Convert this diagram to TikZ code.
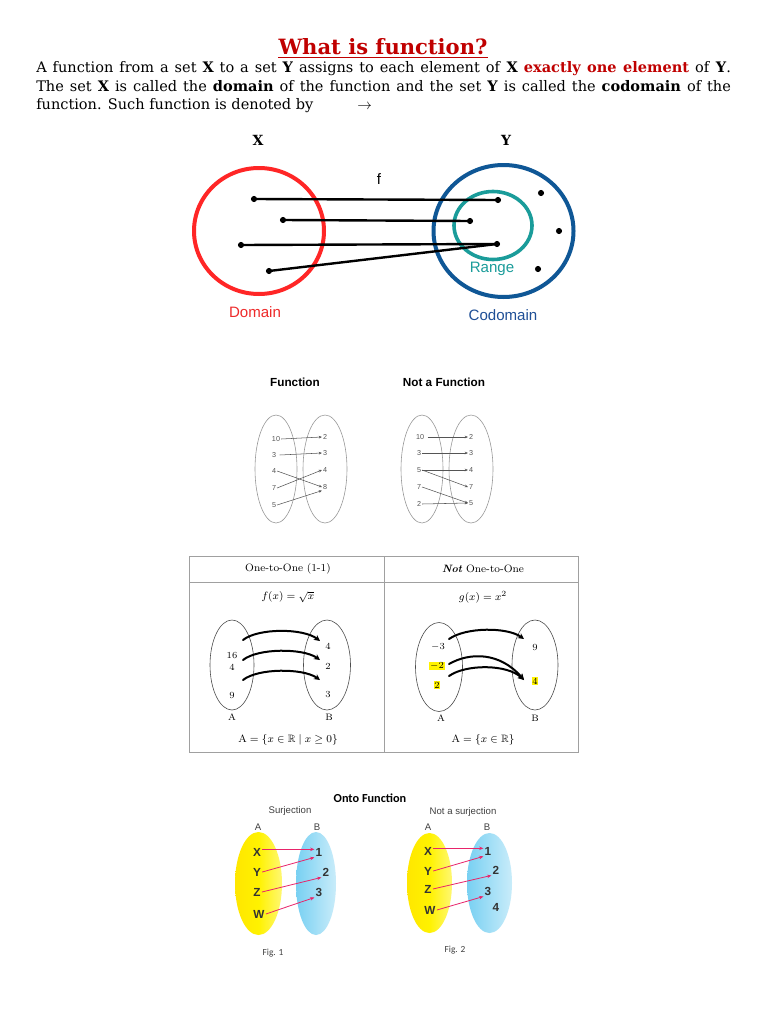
\documentclass[tikz,border=0pt]{standalone}
\usepackage{amssymb}
\usepackage{fontspec}
\usetikzlibrary{arrows.meta,shapes.geometric}
\newfontfamily\bodyfont{DejaVu Serif}
\newfontfamily\arialfont{Liberation Sans}
\newfontfamily\calfont{Carlito}
\definecolor{titlered}{HTML}{C00000}
\definecolor{circred}{HTML}{FF2626}
\definecolor{circblue}{HTML}{0F5796}
\definecolor{circteal}{HTML}{1A9C9A}
\definecolor{domred}{HTML}{EE2A2A}
\definecolor{codblue}{HTML}{1F4F96}
\definecolor{arrowpink}{HTML}{E8246A}
\definecolor{greytext}{HTML}{555555}
\definecolor{boxgrey}{HTML}{A0A0A0}
\definecolor{ovalyellow}{HTML}{FFF200}
\definecolor{ovalblue}{HTML}{78D0F2}
\tikzset{
  body/.style={inner sep=0pt, anchor=base west, font=\bodyfont\fontsize{10.9pt}{12pt}\selectfont},
  dot/.style={circle, fill=black, inner sep=0pt, minimum size=4.6pt},
  link/.style={line width=1.8pt},
  lbl/.style={font=\arialfont\fontsize{11.3pt}{13pt}\selectfont, inner sep=0pt},
  small/.style={font=\arialfont\fontsize{5.4pt}{6pt}\selectfont, text=greytext, inner sep=0.6pt},
  thin oval/.style={draw=gray!80, line width=0.45pt},
  sarrow/.style={draw=greytext, line width=0.4pt, -{Stealth[length=2.4pt,width=2pt]}},
  boxtext/.style={font=\fontsize{8pt}{9.5pt}\selectfont, inner sep=0pt},
  boxnum/.style={font=\fontsize{7pt}{8pt}\selectfont, inner sep=0.6pt},
  fatarrow/.style={line width=1.5pt, line cap=round, -{Stealth[length=4.5pt,width=4.5pt]}},
  hl/.style={fill=yellow},
  onto/.style={font=\arialfont\bfseries\fontsize{8.8pt}{9pt}\selectfont, text=black!80, inner sep=0.8pt},
  ontoarrow/.style={draw=arrowpink, line width=0.6pt, -{Stealth[length=3.2pt,width=2.6pt]}},
  caption/.style={font=\arialfont\fontsize{7.2pt}{8pt}\selectfont, text=black!75, inner sep=0pt},
  setname/.style={inner sep=0pt, font=\bodyfont\bfseries\fontsize{10.5pt}{12pt}\selectfont},
}
\begin{document}
\begin{tikzpicture}[x=0.75pt,y=-0.75pt]
\useasboundingbox (0,0) rectangle (768,1024);
\fill[white] (0,0) rectangle (768,1024);

% ---------- title and text ----------
\node[inner sep=0pt, text=titlered, font=\bodyfont\bfseries\fontsize{15.8pt}{17pt}\selectfont] (title) at (383,47) {What is function?};
\draw[titlered, line width=0.8pt] ([yshift=-1.3pt]title.south west) -- ([yshift=-1.3pt]title.south east);

\node[body] (line1) at (36,73) {\makebox[521pt][s]{A function from a set \textbf{X} to a set \textbf{Y} assigns to each element of \textbf{X} \textcolor{titlered}{\textbf{exactly one element}} of \textbf{Y}.}};
\node[body] (line2) at (36,91) {\makebox[521pt][s]{The set \textbf{X} is called the \textbf{domain} of the function and the set \textbf{Y} is called the \textbf{codomain} of the}};
\node[body] (line3) at (36,109) {function. Such function is denoted by};
\node[body] (arr) at (357,109) {$\rightarrow$};

% ---------- domain / codomain diagram ----------
\node[setname] (setx) at (258,140) {X};
\node[setname] (sety) at (506,140) {Y};
\draw[circred, line width=3pt] (259,231) ellipse [x radius=65, y radius=63];
\draw[circblue, line width=3pt] (503.5,231) ellipse [x radius=70, y radius=66];
\draw[circteal, line width=2.7pt] (493,225.5) ellipse [x radius=39, y radius=34];

\node[dot] (a1) at (254,199) {};
\node[dot] (a2) at (283,220) {};
\node[dot] (a3) at (241,245) {};
\node[dot] (a4) at (269,271) {};
\node[dot] (b1) at (498,200) {};
\node[dot] (b2) at (470,221) {};
\node[dot] (b3) at (497,244) {};
\node[dot] (c1) at (541,193) {};
\node[dot] (c2) at (559,231) {};
\node[dot] (c3) at (538,269) {};
\draw[link] (a1.center) -- (b1.center);
\draw[link] (a2.center) -- (b2.center);
\draw[link] (a3.center) -- (b3.center);
\draw[link] (a4.center) -- (b3.center);

\node[lbl] (f) at (379,179) {f};
\node[lbl, text=circteal] (range) at (492,269) {Range};
\node[lbl, text=domred] (domain) at (255,312) {Domain};
\node[lbl, text=codblue] (codomain) at (503,315) {Codomain};

% ---------- function / not a function ----------
\node[inner sep=0pt, font=\arialfont\bfseries\fontsize{8.8pt}{10pt}\selectfont] (fn) at (295,382) {Function};
\node[inner sep=0pt, font=\arialfont\bfseries\fontsize{8.8pt}{10pt}\selectfont] (nfn) at (444,382) {Not a Function};

\draw[thin oval] (276,469) ellipse [x radius=21, y radius=54];
\draw[thin oval] (325,469) ellipse [x radius=22, y radius=54];
\node[small] (p10) at (276,439) {10};
\node[small] (p3) at (274,455) {3};
\node[small] (p4) at (274,471) {4};
\node[small] (p7) at (274,488) {7};
\node[small] (p5) at (274,505) {5};
\node[small] (q2) at (325,437) {2};
\node[small] (q3) at (325,453) {3};
\node[small] (q4) at (325,470) {4};
\node[small] (q8) at (325,487) {8};
\draw[sarrow] (p10.east) -- (q2.west);
\draw[sarrow] ([xshift=2pt]p3.east) -- (q3.west);
\draw[sarrow] (p4.east) -- (q8.west);
\draw[sarrow] (p7.east) -- (q4.west);
\draw[sarrow] (p5.east) -- (q8.south west);

\draw[thin oval] (422,469) ellipse [x radius=21, y radius=54];
\draw[thin oval] (471,469) ellipse [x radius=22, y radius=54];
\node[small] (r10) at (420,437) {10};
\node[small] (r3) at (419,453) {3};
\node[small] (r5) at (419,470) {5};
\node[small] (r7) at (419,487) {7};
\node[small] (r2) at (419,504) {2};
\node[small] (s2) at (471,437) {2};
\node[small] (s3) at (471,453) {3};
\node[small] (s4) at (471,470) {4};
\node[small] (s7) at (471,487) {7};
\node[small] (s5) at (471,503) {5};
\draw[sarrow] ([xshift=2pt]r10.east) -- (s2.west);
\draw[sarrow] (r3.east) -- (s3.west);
\draw[sarrow] (r5.east) -- (s4.west);
\draw[sarrow] (r5.east) -- (s7.west);
\draw[sarrow] (r7.east) -- (s5.west);
\draw[sarrow] (r2.east) -- (s5.west);

% ---------- one-to-one box ----------
\draw[boxgrey, line width=0.7pt] (189,556) rectangle (578,752);
\draw[boxgrey, line width=0.7pt] (384,556) -- (384,752);
\draw[boxgrey, line width=0.7pt] (189,582) -- (578,582);
\node[boxtext] (h1) at (288,569) {One-to-One (1-1)};
\node[boxtext] (h2) at (483,569) {\textbf{\textit{Not}} One-to-One};
\node[boxtext] (e1) at (288,597) {$f(x) = \sqrt{x}$};
\node[boxtext] (e2) at (483,597) {$g(x) = x^2$};

\draw[thin oval, draw=black!70] (232,665) ellipse [x radius=22, y radius=45];
\draw[thin oval, draw=black!70] (327,665) ellipse [x radius=23.5, y radius=45];
\node[boxnum] (u16) at (232,655) {16};
\node[boxnum] (u4) at (232,667) {4};
\node[boxnum] (u9) at (232,695) {9};
\node[boxnum] (v4) at (328,646) {4};
\node[boxnum] (v2) at (328,666) {2};
\node[boxnum] (v3) at (328,694) {3};
\node[boxnum] (ua) at (232,717) {A};
\node[boxnum] (vb) at (329,717) {B};
\coordinate (s1) at (243,640);
\coordinate (t1) at (320,641);
\coordinate (s2x) at (243,660);
\coordinate (t2) at (320,660);
\coordinate (s3x) at (243,680);
\coordinate (t3) at (320,680);
\draw[fatarrow] (s1) .. controls (258,628) and (303,628) .. (t1);
\draw[fatarrow] (s2x) .. controls (258,648) and (303,648) .. (t2);
\draw[fatarrow] (s3x) .. controls (258,668) and (303,668) .. (t3);
\node[boxtext] (dom1) at (288,740) {$\mathrm{A} = \{x \in \mathbb{R} \mid x \geq 0\}$};

\draw[thin oval, draw=black!70] (439,667) ellipse [x radius=23.5, y radius=44.5];
\draw[thin oval, draw=black!70] (535,665) ellipse [x radius=23, y radius=45];
\node[boxnum] (m3) at (438,647) {$-3$};
\node[boxnum, hl] (m2) at (437,666) {$-2$};
\node[boxnum, hl] (p2) at (437,685) {$2$};
\node[boxnum] (n9) at (535,647) {9};
\node[boxnum, hl] (n4) at (535,681) {4};
\node[boxnum] (wa) at (441,718) {A};
\node[boxnum] (wb) at (535,718) {B};
\coordinate (g1) at (449,639);
\coordinate (h1e) at (524,639);
\coordinate (g2) at (449,664);
\coordinate (g3) at (449,676);
\coordinate (h4) at (524,680);
\draw[fatarrow] (g1) .. controls (466,627) and (507,627) .. (h1e);
\draw[fatarrow] (g2) .. controls (470,652) and (500,652) .. (h4);
\draw[fatarrow] (g3) .. controls (466,664) and (507,664) .. (h4);
\node[boxtext] (dom2) at (483,740) {$\mathrm{A} = \{x \in \mathbb{R}\}$};

% ---------- onto function ----------
\node[inner sep=0pt, font=\calfont\bfseries\fontsize{9.2pt}{10pt}\selectfont] (onto) at (370,798) {Onto Function};
\node[caption] (surj) at (290,811) {Surjection};
\node[caption] (nsurj) at (463,812) {Not a surjection};

\shade[left color=ovalyellow!90!orange, right color=ovalyellow!55!white, middle color=ovalyellow] (258.5,883.5) ellipse [x radius=23.5, y radius=51.5];
\shade[left color=ovalblue, right color=ovalblue!40!white, middle color=ovalblue!70!white] (316,883.5) ellipse [x radius=20, y radius=51.5];
\node[caption] (fa1) at (258,827) {A};
\node[caption] (fb1) at (317,827) {B};
\node[onto] (x1) at (257,852) {X};
\node[onto] (y1) at (257,872) {Y};
\node[onto] (z1) at (257,892) {Z};
\node[onto] (w1) at (259,914) {W};
\node[onto] (o1) at (319,852) {1};
\node[onto] (o2) at (326,872) {2};
\node[onto] (o3) at (319,892) {3};
\draw[ontoarrow] ([yshift=2pt]x1.east) -- ([yshift=2pt]o1.west);
\draw[ontoarrow] (y1.east) -- (o1.south west);
\draw[ontoarrow] (z1.east) -- (o2.south west);
\draw[ontoarrow] (w1.east) -- (o3.south west);
\node[caption, font=\calfont\fontsize{7pt}{8pt}\selectfont] (fig1) at (273,953) {Fig. 1};

\shade[left color=ovalyellow!90!orange, right color=ovalyellow!55!white, middle color=ovalyellow] (429.5,883) ellipse [x radius=22.5, y radius=50];
\shade[left color=ovalblue, right color=ovalblue!40!white, middle color=ovalblue!70!white] (489.5,883) ellipse [x radius=22.5, y radius=50];
\node[caption] (fa2) at (428,827) {A};
\node[caption] (fb2) at (487,827) {B};
\node[onto] (x2) at (428,851) {X};
\node[onto] (y2) at (428,871) {Y};
\node[onto] (z2) at (428,889) {Z};
\node[onto] (w2) at (430,910) {W};
\node[onto] (k1) at (488,851) {1};
\node[onto] (k2) at (496,870) {2};
\node[onto] (k3) at (488,891) {3};
\node[onto] (k4) at (496,907) {4};
\draw[ontoarrow] ([yshift=2pt]x2.east) -- ([yshift=2pt]k1.west);
\draw[ontoarrow] (y2.east) -- (k1.south west);
\draw[ontoarrow] (z2.east) -- (k2.south west);
\draw[ontoarrow] (w2.east) -- (k3.south west);
\node[caption, font=\calfont\fontsize{7pt}{8pt}\selectfont] (fig2) at (455,950) {Fig. 2};
\end{tikzpicture}
\end{document}
